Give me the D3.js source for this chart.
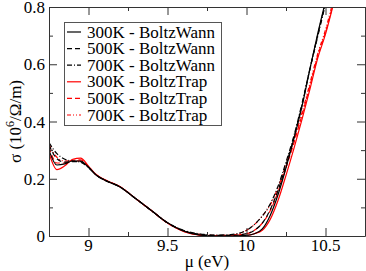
<!DOCTYPE html>
<html>
<head>
<meta charset="utf-8">
<script src="https://cdn.jsdelivr.net/npm/d3@7"></script>
<style>
  body { margin: 0; background: #fff; }
</style>
</head>
<body>
<div id="chart"></div>
<script>
// chemical potential grid (eV)
const mu = [8.75, 8.8, 8.85, 8.9, 8.95, 9.0, 9.05, 9.1, 9.2, 9.3, 9.4, 9.5, 9.6, 9.7, 9.8, 9.9,
            10.0, 10.05, 10.1, 10.15, 10.2, 10.25, 10.3, 10.35, 10.4, 10.45, 10.5, 10.55];

// conductivity (10^6 / Ohm / m)
const bw300 = [0.300, 0.248, 0.252, 0.262, 0.262, 0.240, 0.212, 0.196, 0.171, 0.130, 0.088, 0.046, 0.018, 0.004, 0.000, 0.000,
               0.002, 0.008, 0.025, 0.072, 0.145, 0.238, 0.340, 0.450, 0.580, 0.705, 0.820, 0.930];
const bw500 = [0.318, 0.270, 0.258, 0.260, 0.260, 0.240, 0.212, 0.196, 0.171, 0.130, 0.088, 0.046, 0.019, 0.006, 0.002, 0.002,
               0.008, 0.020, 0.045, 0.092, 0.160, 0.248, 0.345, 0.455, 0.580, 0.700, 0.815, 0.930];
const bw700 = [0.326, 0.288, 0.268, 0.262, 0.258, 0.239, 0.212, 0.196, 0.171, 0.130, 0.088, 0.047, 0.020, 0.008, 0.003, 0.005,
               0.020, 0.040, 0.070, 0.112, 0.175, 0.258, 0.350, 0.460, 0.580, 0.695, 0.810, 0.920];
const bt300 = [0.290, 0.232, 0.245, 0.268, 0.272, 0.244, 0.214, 0.197, 0.172, 0.130, 0.088, 0.045, 0.016, 0.003, 0.000, 0.000,
               0.002, 0.008, 0.020, 0.058, 0.125, 0.212, 0.305, 0.405, 0.510, 0.620, 0.705, 0.810];
const bt500 = [0.310, 0.255, 0.255, 0.265, 0.266, 0.242, 0.213, 0.197, 0.172, 0.130, 0.088, 0.045, 0.017, 0.004, 0.001, 0.002,
               0.008, 0.020, 0.045, 0.088, 0.155, 0.238, 0.325, 0.420, 0.522, 0.628, 0.712, 0.815];
const bt700 = [0.320, 0.275, 0.262, 0.263, 0.262, 0.241, 0.213, 0.197, 0.172, 0.130, 0.088, 0.046, 0.018, 0.006, 0.002, 0.003,
               0.020, 0.040, 0.070, 0.108, 0.170, 0.248, 0.335, 0.428, 0.530, 0.635, 0.720, 0.825];

const labels = ["300K - BoltzWann", "500K - BoltzWann", "700K - BoltzWann",
                "300K - BoltzTrap", "500K - BoltzTrap", "700K - BoltzTrap"];
const seriesValues = [bw300, bw500, bw700, bt300, bt500, bt700];
const colors = ["#000", "#000", "#000", "#ff0000", "#ff0000", "#ff0000"];
const dashes = [null, "5,3", "5,2,1,2", null, "5,3", "4,2,1,2,1,2"];

const xMajor = [9, 9.5, 10, 10.5];
const yMajor = [0, 0.2, 0.4, 0.6, 0.8];

const width = 366;
const height = 271;
const margin = { top: 7, right: 1, bottom: 35, left: 49 };
const fontName = "Liberation Serif";

const svg = d3.select("#chart").append("svg")
    .attr("width", width)
    .attr("height", height);

const x = d3.scaleLinear()
    .domain([8.75, 10.75])
    .range([margin.left, width - margin.right]);

const y = d3.scaleLinear()
    .domain([0, 0.8])
    .range([height - margin.bottom, margin.top]);

const bottomY = height - margin.bottom;
const rightX = width - margin.right;

svg.append("clipPath").attr("id", "plot-clip")
    .append("rect")
    .attr("x", margin.left)
    .attr("y", margin.top)
    .attr("width", width - margin.left - margin.right)
    .attr("height", height - margin.top - margin.bottom);

// curves
const line = d3.line()
    .x(d => x(d[0]))
    .y(d => y(d[1]))
    .curve(d3.curveMonotoneX);

const curves = svg.append("g").attr("clip-path", "url(#plot-clip)");
// draw red first, black on top
[3, 4, 5, 0, 1, 2].forEach(i => {
    curves.append("path")
        .attr("d", line(mu.map((m, j) => [m, seriesValues[i][j]])))
        .attr("fill", "none")
        .attr("stroke", colors[i])
        .attr("stroke-width", 1.2)
        .attr("stroke-dasharray", dashes[i]);
});

// frame and ticks (inward, mirrored)
const axisColor = "#333";
const isMajor = (list, d) => list.some(v => Math.abs(v - d) < 1e-6);

svg.append("g")
    .attr("transform", `translate(0,${bottomY})`)
    .call(d3.axisBottom(x).tickValues(d3.range(9, 10.76, 0.25)).tickSizeInner(-4).tickSizeOuter(0).tickFormat(""))
    .call(g => g.selectAll(".tick line").filter(d => isMajor(xMajor, d)).attr("y2", -8));
svg.append("g")
    .attr("transform", `translate(0,${margin.top})`)
    .call(d3.axisTop(x).tickValues(d3.range(9, 10.76, 0.25)).tickSizeInner(-4).tickSizeOuter(0).tickFormat(""))
    .call(g => g.selectAll(".tick line").filter(d => isMajor(xMajor, d)).attr("y2", 8));
svg.append("g")
    .attr("transform", `translate(${margin.left},0)`)
    .call(d3.axisLeft(y).tickValues(d3.range(0, 0.81, 0.1)).tickSizeInner(-4).tickSizeOuter(0).tickFormat(""))
    .call(g => g.selectAll(".tick line").filter(d => isMajor(yMajor, d)).attr("x2", 8));
svg.append("g")
    .attr("transform", `translate(${rightX},0)`)
    .call(d3.axisRight(y).tickValues(d3.range(0, 0.81, 0.1)).tickSizeInner(-4).tickSizeOuter(0).tickFormat(""))
    .call(g => g.selectAll(".tick line").filter(d => isMajor(yMajor, d)).attr("x2", -8));

svg.selectAll(".domain").attr("stroke", axisColor);
svg.selectAll(".tick line").attr("stroke", axisColor);

// tick labels and titles
const txt = svg.append("g");

txt.selectAll("text.xl")
    .data(xMajor)
    .join("text")
    .attr("class", "xl")
    .attr("x", d => x(d))
    .attr("y", bottomY + 15)
    .attr("text-anchor", "middle")
    .attr("font-size", 17)
    .style("font-family", `"${fontName}"`)
    .text(d => d);

txt.selectAll("text.yl")
    .data(yMajor)
    .join("text")
    .attr("class", "yl")
    .attr("x", margin.left - 4)
    .attr("y", d => y(d) + 6)
    .attr("text-anchor", "end")
    .attr("font-size", 17)
    .style("font-family", `"${fontName}"`)
    .text(d => d);

txt.append("text")
    .attr("x", (margin.left + rightX) / 2)
    .attr("y", height - 4)
    .attr("text-anchor", "middle")
    .attr("font-size", 17)
    .style("font-family", `"${fontName}"`)
    .text("\u03bc (eV)");

const yTitle = txt.append("text")
    .attr("transform", `translate(21,${(margin.top + bottomY) / 2}) rotate(-90)`)
    .attr("text-anchor", "middle")
    .attr("font-size", 17)
    .style("font-family", `"${fontName}"`);
yTitle.append("tspan").text("\u03c3 (10");
yTitle.append("tspan").attr("font-size", 12).attr("dy", -7).text("6");
yTitle.append("tspan").attr("dy", 7).text("/\u03a9/m)");

// legend
const legend = svg.append("g");
legend.append("rect")
    .attr("x", 64.5)
    .attr("y", 22.5)
    .attr("width", 157)
    .attr("height", 103)
    .attr("fill", "#fff")
    .attr("stroke", "#555")
    .attr("stroke-width", 1);

labels.forEach((lab, i) => {
    const cy = 32 + i * 16.6;
    legend.append("line")
        .attr("x1", 67).attr("x2", 81)
        .attr("y1", cy).attr("y2", cy)
        .attr("stroke", colors[i])
        .attr("stroke-width", 1.2)
        .attr("stroke-dasharray", dashes[i]);
    legend.append("text")
        .attr("x", 87)
        .attr("y", cy + 5.5)
        .attr("font-size", 17)
        .style("font-family", `"${fontName}"`)
        .text(lab);
});
</script>
</body>
</html>
